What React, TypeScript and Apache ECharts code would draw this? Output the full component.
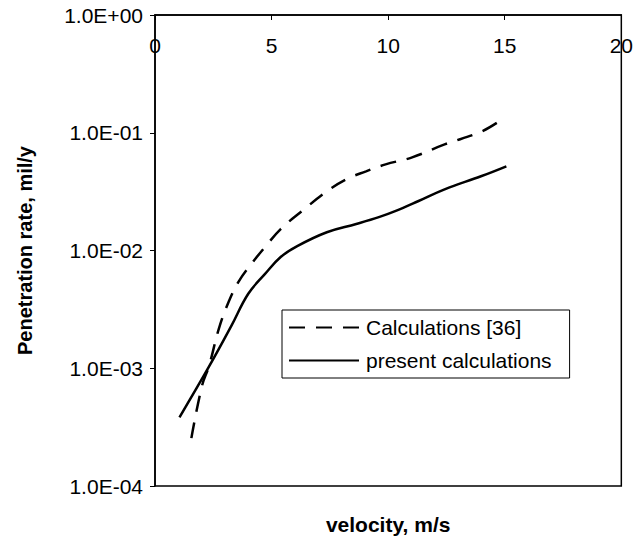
import React, { useEffect, useRef } from "react";
import * as echarts from "echarts";

const seriesNames = ["Calculations [36]", "present calculations"];

const dashedVelocity = [1.56, 2.02, 2.32, 2.74, 3.16, 3.58, 4.13, 4.72, 5.39, 6.4, 7.37, 8.21, 9.05, 9.89, 11.03, 12.42, 13.98, 14.86];
const dashedRate = [2.55e-4, 7.15e-4, 1.05e-3, 2.17e-3, 3.67e-3, 5.42e-3, 7.69e-3, 1.07e-2, 1.52e-2, 2.24e-2, 3.18e-2, 4.03e-2, 4.7e-2, 5.39e-2, 6.18e-2, 7.96e-2, 1.02e-1, 1.29e-1];

const solidVelocity = [1.05, 2.32, 3.28, 4.0, 4.72, 5.39, 6.1, 7.37, 8.63, 9.6, 10.3, 11.28, 12.42, 13.98, 15.07];
const solidRate = [3.83e-4, 1.035e-3, 2.3e-3, 4.29e-3, 6.33e-3, 8.8e-3, 1.09e-2, 1.43e-2, 1.68e-2, 1.92e-2, 2.16e-2, 2.62e-2, 3.31e-2, 4.27e-2, 5.19e-2];

const xTicks = [0, 5, 10, 15, 20];
const yTicks = [1e-4, 1e-3, 1e-2, 1e-1, 1];

const FONT = "'Liberation Sans', Arial, sans-serif";

function fmtExp(v: number): string {
  const e = Math.round(Math.log10(v));
  const sign = e < 0 ? "-" : "+";
  return "1.0E" + sign + String(Math.abs(e)).padStart(2, "0");
}

export default function App() {
  const ref = useRef<HTMLDivElement>(null);
  useEffect(() => {
    if (!ref.current) return;
    const chart = echarts.init(ref.current, undefined, { renderer: "svg" });
    const pair = (xs: number[], ys: number[]) => xs.map((x, i) => [x, ys[i]]);
    chart.setOption({
      animation: false,
      backgroundColor: "#fff",
      textStyle: { fontFamily: FONT, color: "#000" },
      grid: {
        left: 155,
        top: 15,
        right: 6,
        bottom: 52,
        show: true,
        borderColor: "#000",
        borderWidth: 1.5,
        backgroundColor: "transparent",
      },
      legend: {
        orient: "vertical",
        left: 282,
        top: 310,
        borderColor: "#000",
        borderWidth: 1,
        borderRadius: 0,
        padding: [7, 18, 7, 6],
        itemWidth: 70,
        itemHeight: 14,
        itemGap: 12,
        itemStyle: { opacity: 0 },
        textStyle: { fontSize: 21, color: "#000", fontFamily: FONT, padding: [0, 0, 0, 2] },
        data: seriesNames,
      },
      xAxis: [
        {
          type: "value",
          position: "top",
          min: xTicks[0],
          max: xTicks[xTicks.length - 1],
          interval: 5,
          axisLine: { show: true, lineStyle: { color: "#000", width: 1.5 } },
          axisTick: { show: true, inside: true, length: 5, lineStyle: { color: "#000", width: 1 } },
          axisLabel: {
            inside: true,
            margin: 20,
            fontSize: 21,
            color: "#000",
            fontFamily: FONT,
            showMinLabel: true,
            showMaxLabel: true,
          },
          splitLine: { show: false },
        },
        {
          type: "value",
          position: "bottom",
          min: xTicks[0],
          max: xTicks[xTicks.length - 1],
          name: "velocity, m/s",
          nameLocation: "middle",
          nameGap: 28,
          nameTextStyle: { fontSize: 21, fontWeight: "bold", color: "#000", fontFamily: FONT },
          axisLine: { show: false },
          axisTick: { show: false },
          axisLabel: { show: false },
          splitLine: { show: false },
        },
      ],
      yAxis: {
        type: "log",
        logBase: 10,
        min: yTicks[0],
        max: yTicks[yTicks.length - 1],
        name: "Penetration rate, mil/y",
        nameLocation: "middle",
        nameGap: 120,
        nameTextStyle: { fontSize: 20, fontWeight: "bold", color: "#000", fontFamily: FONT },
        axisLine: { show: true, lineStyle: { color: "#000", width: 1.5 } },
        axisTick: { show: true, inside: false, length: 5, lineStyle: { color: "#000", width: 1 } },
        minorTick: { show: false },
        axisLabel: {
          margin: 12,
          fontSize: 21,
          color: "#000",
          fontFamily: FONT,
          formatter: (v: number) => fmtExp(v),
        },
        splitLine: { show: false },
      },
      series: [
        {
          name: seriesNames[0],
          type: "line",
          xAxisIndex: 0,
          data: pair(dashedVelocity, dashedRate),
          smooth: 0.4,
          symbol: "none",
          showSymbol: false,
          lineStyle: { color: "#000", width: 2.5, type: [16, 11] },
          itemStyle: { color: "#000" },
        },
        {
          name: seriesNames[1],
          type: "line",
          xAxisIndex: 0,
          data: pair(solidVelocity, solidRate),
          smooth: 0.4,
          symbol: "none",
          showSymbol: false,
          lineStyle: { color: "#000", width: 2.5, type: "solid" },
          itemStyle: { color: "#000" },
        },
      ],
    });
    return () => chart.dispose();
  }, []);
  return (
    <div
      ref={ref}
      style={{ position: "fixed", left: 0, top: 0, width: 636, height: 540, background: "#fff" }}
    />
  );
}
